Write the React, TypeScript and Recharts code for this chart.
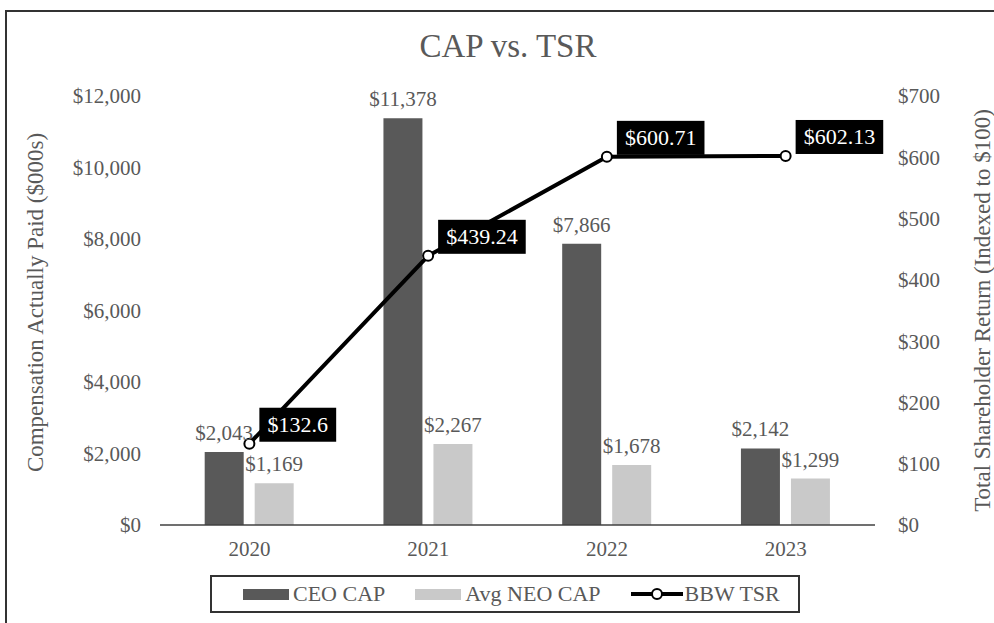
import {
  Bar,
  ComposedChart,
  Label,
  LabelList,
  Legend,
  Line,
  XAxis,
  YAxis,
} from "recharts";

const years = ["2020", "2021", "2022", "2023"];
const ceoCap = [2043, 11378, 7866, 2142];
const neoCap = [1169, 2267, 1678, 1299];
const bbwTsr = [132.6, 439.24, 600.71, 602.13];
const leftTicks = [0, 2000, 4000, 6000, 8000, 10000, 12000];
const rightTicks = [0, 100, 200, 300, 400, 500, 600, 700];

const data = years.map((year, i) => ({
  year,
  ceo: ceoCap[i],
  neo: neoCap[i],
  tsr: bbwTsr[i],
}));

const FONT = '"Liberation Serif", "Times New Roman", serif';
const GREY = "#595959";
const CEO_COLOR = "#595959";
const NEO_COLOR = "#c9c9c9";

const money = (v: number) => "$" + v.toLocaleString("en-US");

function TsrLabel(props: any) {
  const { x, y, value } = props;
  const text = "$" + value;
  const w = text.length * 10.8 + 12;
  const left = x + 10;
  const top = y - 36;
  return (
    <g>
      <rect x={left} y={top} width={w} height={34} fill="#000" />
      <text
        x={left + w / 2}
        y={top + 17}
        fill="#fff"
        fontSize={22}
        fontFamily={FONT}
        textAnchor="middle"
        dominantBaseline="central"
      >
        {text}
      </text>
    </g>
  );
}

function LegendBox() {
  const item = { display: "flex", alignItems: "center", marginRight: 30 };
  return (
    <div
      style={{
        boxSizing: "border-box",
        marginLeft: 200,
        width: 590,
        height: 38,
        border: "2px solid #333",
        display: "flex",
        alignItems: "center",
        paddingLeft: 31,
        fontFamily: FONT,
        fontSize: 22,
        color: GREY,
        background: "#fff",
      }}
    >
      <div style={item}>
        <span style={{ width: 46, height: 11, background: CEO_COLOR, display: "inline-block", marginRight: 4 }} />
        CEO CAP
      </div>
      <div style={item}>
        <span style={{ width: 46, height: 11, background: NEO_COLOR, display: "inline-block", marginRight: 4 }} />
        Avg NEO CAP
      </div>
      <div style={{ display: "flex", alignItems: "center" }}>
        <svg width={52} height={14} style={{ marginRight: 2 }}>
          <line x1={0} y1={7} x2={52} y2={7} stroke="#000" strokeWidth={4} />
          <circle cx={26} cy={7} r={5} fill="#fff" stroke="#000" strokeWidth={2} />
        </svg>
        BBW TSR
      </div>
    </div>
  );
}

export default function App() {
  const tickStyle = { fill: GREY, fontSize: 21, fontFamily: FONT };
  const labelStyle = { fill: GREY, fontSize: 21, fontFamily: FONT };
  return (
    <div
      style={{
        position: "absolute",
        left: 0,
        top: 0,
        width: 994,
        height: 623,
        overflow: "hidden",
        background: "#fff",
      }}
    >
      <div
        style={{
          position: "absolute",
          left: 5,
          top: 10,
          width: 1100,
          height: 700,
          border: "2px solid #333",
        }}
      />
      <div
        style={{
          position: "absolute",
          left: 0,
          top: 28,
          width: 1016,
          textAlign: "center",
          fontFamily: FONT,
          fontSize: 33,
          color: GREY,
        }}
      >
        CAP vs. TSR
      </div>
      <div style={{ position: "absolute", left: 0, top: 0 }}>
        <ComposedChart
          width={994}
          height={623}
          data={data}
          margin={{ top: 96, right: 9, bottom: 10, left: 10 }}
          barCategoryGap="25%"
          barGap={11}
        >
          <XAxis
            dataKey="year"
            axisLine={{ stroke: "#404040", strokeWidth: 1.5 }}
            tickLine={false}
            tickSize={0}
            tickMargin={16}
            height={50}
            tick={tickStyle}
          />
          <YAxis
            yAxisId="left"
            domain={[0, 12000]}
            ticks={leftTicks}
            tickFormatter={money}
            axisLine={false}
            tickLine={false}
            tickSize={0}
            tickMargin={19}
            width={150}
            tick={tickStyle}
          >
            <Label
              value="Compensation Actually Paid ($000s)"
              angle={-90}
              position="center"
              dx={-50}
              dy={-8}
              style={{ fill: GREY, fontSize: 23, fontFamily: FONT }}
            />
          </YAxis>
          <YAxis
            yAxisId="right"
            orientation="right"
            domain={[0, 700]}
            ticks={rightTicks}
            tickFormatter={money}
            axisLine={false}
            tickLine={false}
            tickSize={0}
            tickMargin={23}
            width={110}
            tick={{ ...tickStyle, textAnchor: "start" }}
          >
            <Label
              value="Total Shareholder Return (Indexed to $100)"
              angle={-90}
              position="center"
              dx={52}
              style={{ fill: GREY, fontSize: 23, fontFamily: FONT }}
            />
          </YAxis>
          <Legend verticalAlign="bottom" content={() => <LegendBox />} />
          <Bar yAxisId="left" dataKey="ceo" name="CEO CAP" fill={CEO_COLOR} isAnimationActive={false}>
            <LabelList dataKey="ceo" position="top" offset={12} formatter={(v: any) => money(v)} style={labelStyle} />
          </Bar>
          <Bar yAxisId="left" dataKey="neo" name="Avg NEO CAP" fill={NEO_COLOR} isAnimationActive={false}>
            <LabelList dataKey="neo" position="top" offset={12} formatter={(v: any) => money(v)} style={labelStyle} />
          </Bar>
          <Line
            yAxisId="right"
            dataKey="tsr"
            name="BBW TSR"
            stroke="#000"
            strokeWidth={4}
            dot={{ r: 5, fill: "#fff", stroke: "#000", strokeWidth: 2 }}
            isAnimationActive={false}
          >
            <LabelList dataKey="tsr" content={TsrLabel} />
          </Line>
        </ComposedChart>
      </div>
    </div>
  );
}
